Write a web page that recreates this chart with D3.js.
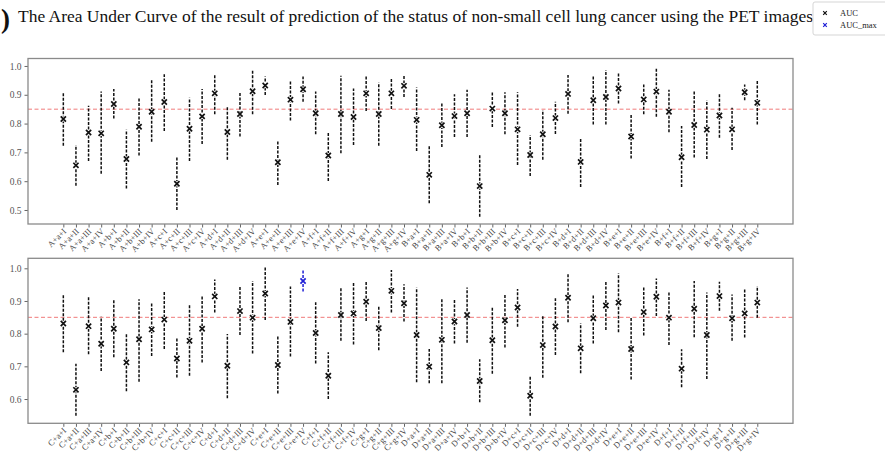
<!DOCTYPE html>
<html><head><meta charset="utf-8">
<script src="https://cdn.jsdelivr.net/npm/d3@7"></script>
<style>
html,body{margin:0;padding:0;background:#fff;}
svg{display:block;}
</style></head>
<body>
<svg id="chart" width="885" height="453"></svg>
<script>
const titleText = "The Area Under Curve of the result of prediction of the status of non-small cell lung cancer using the PET images";

const topLabels = ["A+a+I","A+a+II","A+a+III","A+a+IV","A+b+I","A+b+II","A+b+III","A+b+IV","A+c+I","A+c+II","A+c+III","A+c+IV","A+d+I","A+d+II","A+d+III","A+d+IV","A+e+I","A+e+II","A+e+III","A+e+IV","A+f+I","A+f+II","A+f+III","A+f+IV","A+g+I","A+g+II","A+g+III","A+g+IV",
"B+a+I","B+a+II","B+a+III","B+a+IV","B+b+I","B+b+II","B+b+III","B+b+IV","B+c+I","B+c+II","B+c+III","B+c+IV","B+d+I","B+d+II","B+d+III","B+d+IV","B+e+I","B+e+II","B+e+III","B+e+IV","B+f+I","B+f+II","B+f+III","B+f+IV","B+g+I","B+g+II","B+g+III","B+g+IV"];
const topAUC  = [0.816,0.655,0.769,0.766,0.868,0.677,0.789,0.841,0.875,0.591,0.782,0.825,0.905,0.771,0.833,0.912,0.932,0.666,0.883,0.919,0.836,0.689,0.833,0.823,0.905,0.833,0.905,0.931,
0.813,0.622,0.794,0.826,0.836,0.583,0.852,0.836,0.780,0.691,0.763,0.819,0.903,0.667,0.881,0.892,0.922,0.755,0.884,0.911,0.841,0.683,0.795,0.779,0.828,0.780,0.909,0.872];
const topLow  = [0.723,0.584,0.670,0.626,0.818,0.575,0.689,0.737,0.774,0.500,0.670,0.729,0.832,0.674,0.755,0.832,0.899,0.587,0.811,0.876,0.763,0.601,0.697,0.726,0.844,0.723,0.851,0.892,
0.705,0.523,0.719,0.753,0.753,0.477,0.788,0.763,0.656,0.618,0.674,0.764,0.834,0.580,0.797,0.797,0.870,0.679,0.832,0.824,0.770,0.580,0.682,0.677,0.751,0.708,0.881,0.797];
const topHigh = [0.909,0.726,0.862,0.911,0.920,0.779,0.888,0.951,0.971,0.683,0.890,0.920,0.973,0.861,0.911,0.988,0.963,0.740,0.951,0.963,0.911,0.772,0.966,0.922,0.966,0.943,0.960,0.966,
0.925,0.723,0.873,0.902,0.917,0.693,0.911,0.909,0.909,0.760,0.847,0.876,0.969,0.749,0.963,0.986,0.975,0.832,0.936,0.994,0.917,0.792,0.911,0.881,0.905,0.855,0.936,0.949];

const bottomLabels = ["C+a+I","C+a+II","C+a+III","C+a+IV","C+b+I","C+b+II","C+b+III","C+b+IV","C+c+I","C+c+II","C+c+III","C+c+IV","C+d+I","C+d+II","C+d+III","C+d+IV","C+e+I","C+e+II","C+e+III","C+e+IV","C+f+I","C+f+II","C+f+III","C+f+IV","C+g+I","C+g+II","C+g+III","C+g+IV",
"D+a+I","D+a+II","D+a+III","D+a+IV","D+b+I","D+b+II","D+b+III","D+b+IV","D+c+I","D+c+II","D+c+III","D+c+IV","D+d+I","D+d+II","D+d+III","D+d+IV","D+e+I","D+e+II","D+e+III","D+e+IV","D+f+I","D+f+II","D+f+III","D+f+IV","D+g+I","D+g+II","D+g+III","D+g+IV"];
const bottomAUC  = [0.831,0.628,0.823,0.769,0.815,0.712,0.783,0.813,0.843,0.724,0.778,0.815,0.914,0.702,0.869,0.849,0.923,0.704,0.836,0.961,0.802,0.671,0.857,0.862,0.898,0.817,0.931,0.893,
0.796,0.699,0.781,0.837,0.857,0.655,0.780,0.841,0.880,0.610,0.765,0.822,0.910,0.755,0.847,0.886,0.895,0.753,0.866,0.913,0.849,0.693,0.876,0.796,0.915,0.847,0.862,0.895];
const bottomLow  = [0.743,0.549,0.737,0.686,0.728,0.624,0.653,0.732,0.753,0.666,0.671,0.712,0.865,0.602,0.796,0.739,0.842,0.617,0.730,0.929,0.709,0.600,0.778,0.767,0.839,0.749,0.865,0.837,
0.651,0.648,0.648,0.770,0.772,0.590,0.677,0.758,0.821,0.549,0.665,0.735,0.835,0.679,0.770,0.811,0.804,0.660,0.794,0.854,0.765,0.636,0.789,0.661,0.870,0.778,0.788,0.849];
const bottomHigh = [0.920,0.708,0.912,0.852,0.903,0.801,0.905,0.893,0.932,0.786,0.888,0.918,0.966,0.799,0.944,0.961,1.005,0.794,0.944,0.995,0.896,0.743,0.939,0.959,0.959,0.886,0.995,0.951,
0.941,0.753,0.910,0.906,0.941,0.722,0.883,0.923,0.937,0.671,0.857,0.908,0.982,0.832,0.920,0.959,0.985,0.849,0.941,0.969,0.929,0.752,0.961,0.926,0.959,0.920,0.937,0.946];
const bottomMaxIndex = 19;

const threshold = 0.85;
const topTicks = [0.5,0.6,0.7,0.8,0.9,1.0];
const bottomTicks = [0.6,0.7,0.8,0.9,1.0];
const legendLabels = ["AUC","AUC_max"];

const svg = d3.select("#chart");
const serif = "'Liberation Serif','Times New Roman',serif";

// title
svg.append("text").attr("x", 1).attr("y", 28).attr("font-family", serif)
  .attr("font-size", 27).attr("font-weight", "bold").attr("fill", "#111").text(")");
svg.append("text").attr("x", 18).attr("y", 22).attr("font-family", serif)
  .attr("font-size", 17).attr("fill", "#111")
  .attr("textLength", 795).attr("lengthAdjust", "spacingAndGlyphs").text(titleText);

function panel(cfg) {
  const x = d3.scaleLinear().domain([-2.8, 57.83]).range([28, 793]);
  const y = d3.scaleLinear().domain(cfg.ydom).range([cfg.bottom, cfg.top]);
  const g = svg.append("g");
  g.append("rect").attr("x", 28).attr("y", cfg.top).attr("width", 765).attr("height", cfg.bottom - cfg.top)
    .attr("fill", "#fff");
  // y axis
  const ya = g.append("g").attr("transform", "translate(28,0)")
    .call(d3.axisLeft(y).tickValues(cfg.ticks).tickFormat(d3.format(".1f")).tickSize(3.5).tickPadding(3));
  ya.select(".domain").remove();
  ya.selectAll("line").attr("stroke", "#666");
  ya.selectAll("text").attr("font-family", serif).attr("font-size", 9.5).attr("fill", "#555");
  // x axis
  const xa = g.append("g").attr("transform", `translate(0,${cfg.bottom})`)
    .call(d3.axisBottom(x).tickValues(d3.range(cfg.labels.length)).tickFormat(i => cfg.labels[i]).tickSize(3.5));
  xa.select(".domain").remove();
  xa.selectAll("line").attr("stroke", "#666");
  xa.selectAll("text").attr("font-family", serif).attr("font-size", 8.5).attr("fill", "#444")
    .attr("text-anchor", "end").attr("dy", 0).attr("y", 0)
    .attr("transform", "translate(3,8) rotate(-45)");
  // threshold
  g.append("line").attr("x1", 28).attr("x2", 793).attr("y1", y(threshold)).attr("y2", y(threshold))
    .attr("stroke", "#f07a7a").attr("stroke-width", 1).attr("stroke-dasharray", "4,2.5");
  const idx = d3.range(cfg.labels.length);
  const col = i => (i === cfg.maxIndex ? "#1f1fd6" : "#111");
  // error bars
  g.selectAll(".eb").data(idx).join("line")
    .attr("x1", i => x(i)).attr("x2", i => x(i))
    .attr("y1", i => y(cfg.low[i])).attr("y2", i => y(cfg.high[i]))
    .attr("stroke", col).attr("stroke-width", 1.5).attr("stroke-dasharray", "3,1.5");
  // markers
  const s = 2.6;
  const mk = g.selectAll(".mk").data(idx).join("g")
    .attr("transform", i => `translate(${x(i)},${y(cfg.auc[i])})`);
  mk.append("rect").attr("x", -s).attr("y", -s).attr("width", 2*s).attr("height", 2*s)
    .attr("fill", "#fff").attr("stroke", "none");
  mk.append("path").attr("d", `M${-s},${-s}L${s},${s}M${-s},${s}L${s},${-s}`)
    .attr("stroke", col).attr("stroke-width", 1.7);
  // frame
  g.append("rect").attr("x", 28).attr("y", cfg.top).attr("width", 765).attr("height", cfg.bottom - cfg.top)
    .attr("fill", "none").attr("stroke", "#8a8a8a").attr("stroke-width", 1.3);
}

panel({top: 58.5, bottom: 224, ydom: [0.4514, 1.0259], ticks: topTicks,
  labels: topLabels, auc: topAUC, low: topLow, high: topHigh, maxIndex: -1});
panel({top: 258.3, bottom: 423.3, ydom: [0.5257, 1.0306], ticks: bottomTicks,
  labels: bottomLabels, auc: bottomAUC, low: bottomLow, high: bottomHigh, maxIndex: bottomMaxIndex});

// legend
const lg = svg.append("g");
lg.append("rect").attr("x", 813).attr("y", 2).attr("width", 80).attr("height", 33)
  .attr("fill", "#fff").attr("stroke", "#d5d5d5").attr("stroke-width", 1).attr("rx", 2);
const lcols = ["#111", "#1f1fd6"];
legendLabels.forEach((t, k) => {
  const yy = 13 + k * 12;
  const s = 1.8;
  lg.append("path").attr("d", `M${825-s},${yy-s}L${825+s},${yy+s}M${825-s},${yy+s}L${825+s},${yy-s}`)
    .attr("stroke", lcols[k]).attr("stroke-width", 1.2);
  lg.append("text").attr("x", 840).attr("y", yy + 2.5).attr("font-family", serif)
    .attr("font-size", 8.5).attr("fill", "#222").text(t);
});
</script>
</body></html>
